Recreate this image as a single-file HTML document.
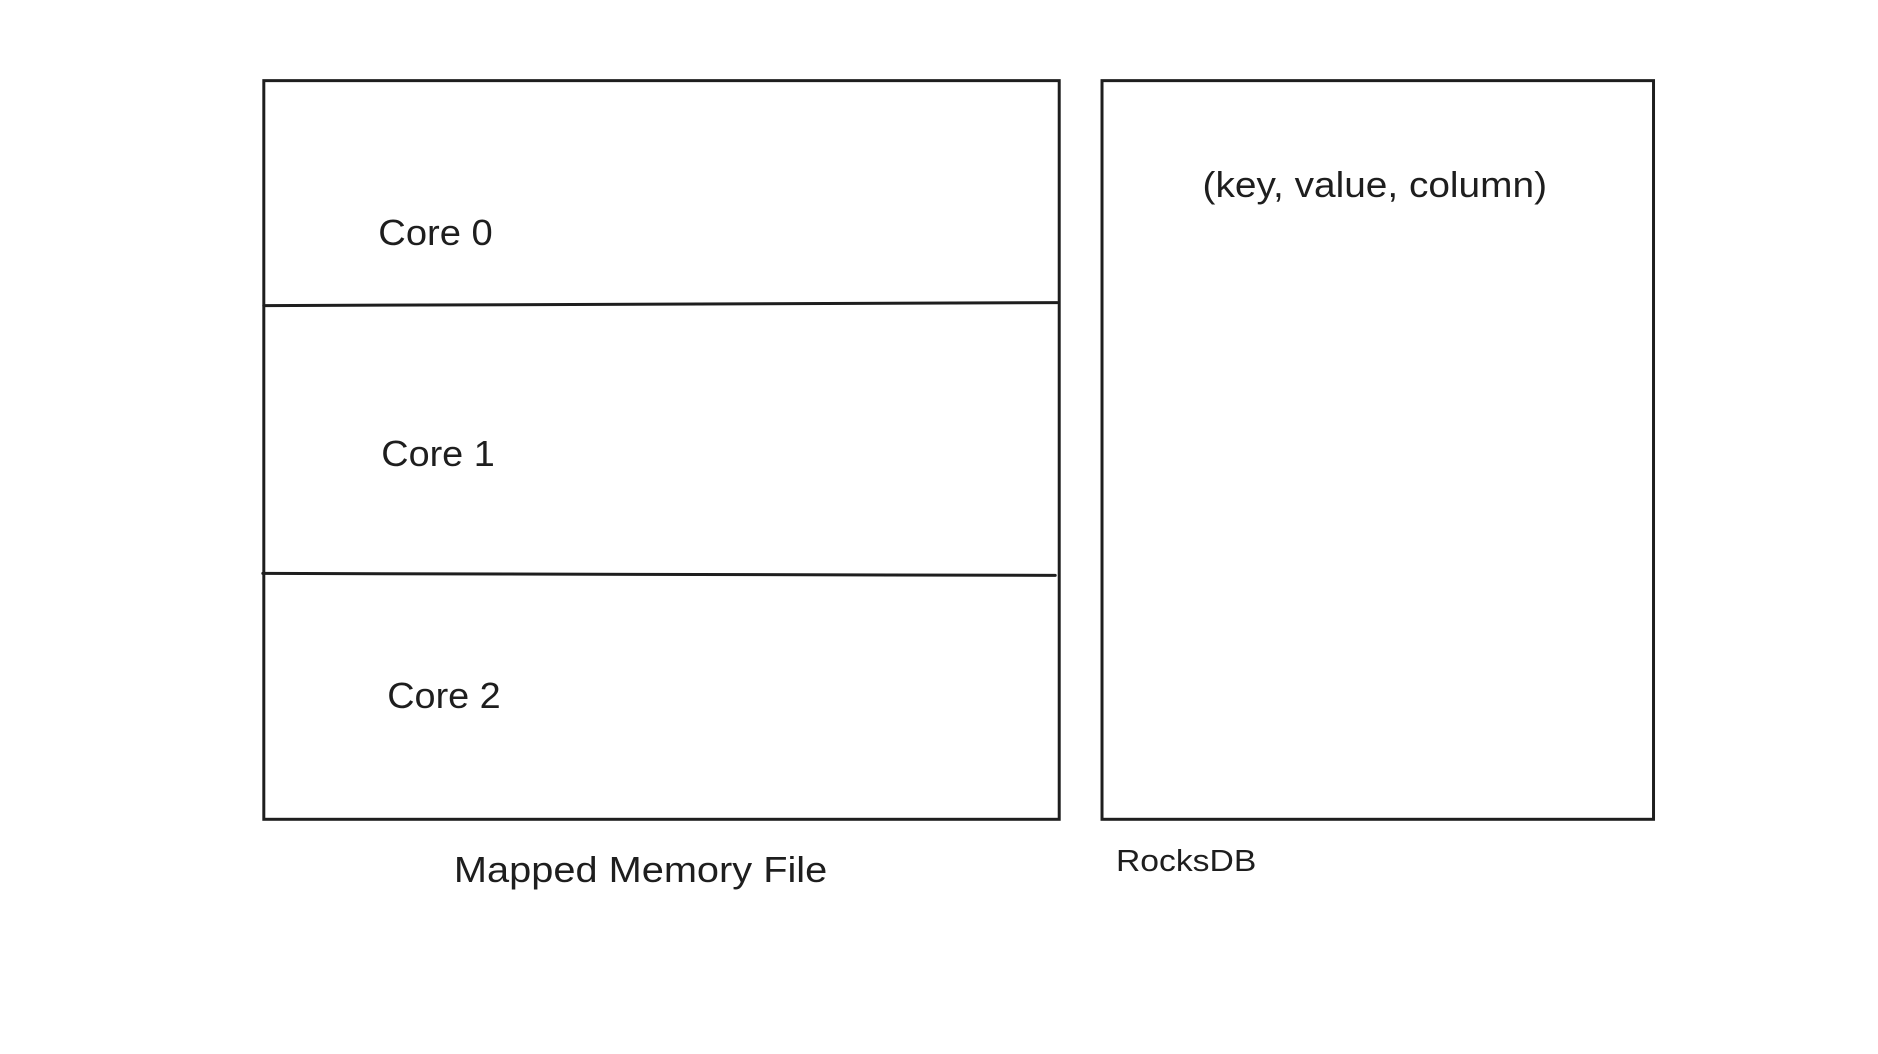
<!DOCTYPE html>
<html><head><meta charset="utf-8"><style>html,body{margin:0;padding:0;background:#fff;}svg{display:block}</style></head>
<body>
<svg width="1878" height="1054" viewBox="0 0 1878 1054" xmlns="http://www.w3.org/2000/svg">
<rect width="1878" height="1054" fill="#fff"/>
<g transform="scale(0.9955)">
<g fill="none" stroke="#1e1e1e" stroke-width="3" stroke-linecap="round">
<rect x="265" y="81" width="799" height="742"/>
<path d="M265 307 L1062 304"/>
<path d="M264 576 L1060 578"/>
<rect x="1107" y="81" width="554" height="742"/>
</g>
<g font-family="Liberation Sans, sans-serif" fill="#1e1e1e" font-size="36">
<text x="380" y="246" textLength="115" lengthAdjust="spacingAndGlyphs">Core 0</text>
<text x="383" y="468" textLength="114" lengthAdjust="spacingAndGlyphs">Core 1</text>
<text x="389" y="711" textLength="114" lengthAdjust="spacingAndGlyphs">Core 2</text>
<text x="456" y="886" textLength="375" lengthAdjust="spacingAndGlyphs">Mapped Memory File</text>
<text x="1208" y="198" textLength="346" lengthAdjust="spacingAndGlyphs">(key, value, column)</text>
<text x="1121" y="875" font-size="31" textLength="141" lengthAdjust="spacingAndGlyphs">RocksDB</text>
</g>
</g>
</svg>
</body></html>
